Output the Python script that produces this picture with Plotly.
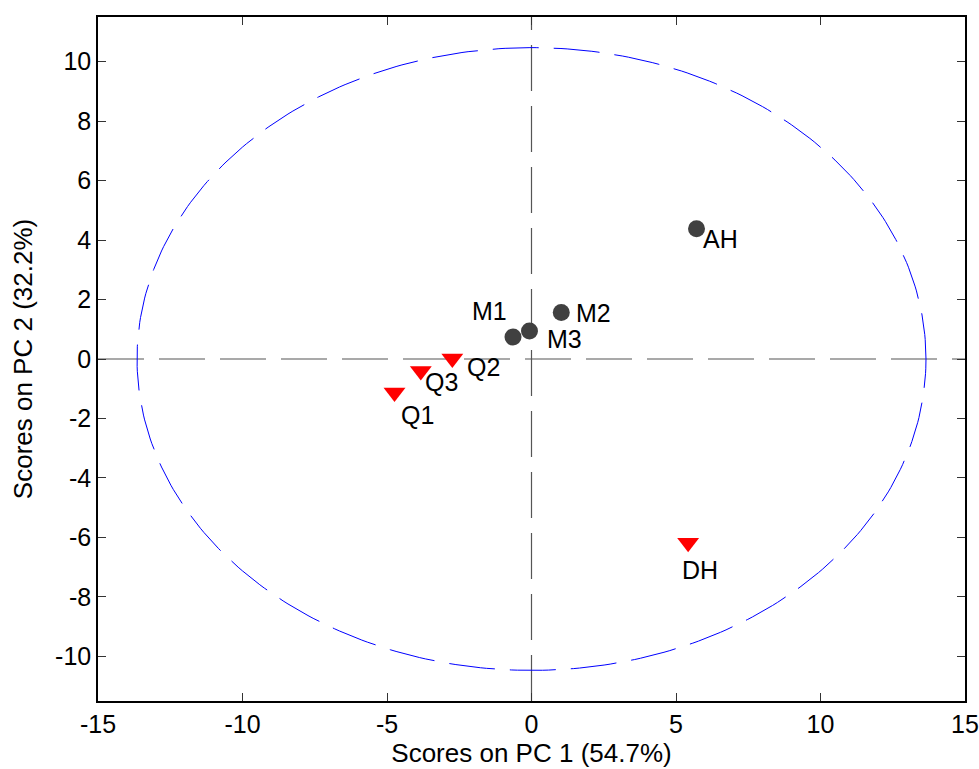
import numpy as np
import plotly.graph_objects as go

# Data
circle_labels = ["AH", "M1", "M2", "M3"]
circle_pc1 = [5.71, -0.64, 1.03, -0.07]
circle_pc2 = [4.38, 0.74, 1.56, 0.94]

tri_labels = ["DH", "Q1", "Q2", "Q3"]
tri_pc1 = [5.42, -4.74, -2.74, -3.83]
tri_pc2 = [-6.18, -1.13, 0.02, -0.40]

ellipse_radii = [13.65, 10.47]
x_ticks = [-15, -10, -5, 0, 5, 10, 15]
y_ticks = [-10, -8, -6, -4, -2, 0, 2, 4, 6, 8, 10]
x_range = [-15, 15]
y_range = [-11.5, 11.5]

# label pixel offsets (dx right, dy down)
label_offsets = {
    "AH": (24, 10), "M1": (-24, -26), "M2": (32, 0), "M3": (35, 8),
    "DH": (12, 27), "Q1": (23, 22), "Q2": (31, 9), "Q3": (21, 11),
}

FONT = "Liberation Sans, Arial, sans-serif"
FS = 26

fig = go.Figure()

# zero lines (dashed)
fig.add_trace(go.Scatter(x=[x_range[0], x_range[1]], y=[0, 0], mode="lines",
                         line=dict(color="#555555", width=1.2, dash="46px,15px"),
                         hoverinfo="skip", showlegend=False))
fig.add_trace(go.Scatter(x=[0, 0], y=[y_range[0], y_range[1]], mode="lines",
                         line=dict(color="#555555", width=1.2, dash="46px,15px"),
                         hoverinfo="skip", showlegend=False))

# confidence ellipse
t = np.linspace(0, 2 * np.pi, 400)
fig.add_trace(go.Scatter(x=ellipse_radii[0] * np.cos(t), y=ellipse_radii[1] * np.sin(t),
                         mode="lines", line=dict(color="#0000ff", width=1, dash="46px,15px"),
                         hoverinfo="skip", showlegend=False))

fig.add_trace(go.Scatter(x=circle_pc1, y=circle_pc2, mode="markers",
                         marker=dict(symbol="circle", size=17, color="#404040"),
                         showlegend=False))
fig.add_trace(go.Scatter(x=tri_pc1, y=tri_pc2, mode="markers",
                         marker=dict(symbol="triangle-down", size=19, color="#ff0000"),
                         showlegend=False))

for labs, xs, ys in [(circle_labels, circle_pc1, circle_pc2), (tri_labels, tri_pc1, tri_pc2)]:
    for lab, x, y in zip(labs, xs, ys):
        dx, dy = label_offsets[lab]
        fig.add_annotation(x=x, y=y, text=lab, showarrow=False, xshift=dx, yshift=-dy,
                           font=dict(family=FONT, size=FS - 1, color="black"))

axis_common = dict(showline=True, linecolor="black", linewidth=1.5, mirror="ticks",
                   ticks="inside", ticklen=8, tickwidth=1, tickcolor="#333333",
                   showgrid=False, zeroline=False, automargin=False,
                   tickfont=dict(family=FONT, size=FS - 1, color="black"))

fig.update_xaxes(range=x_range, tickvals=x_ticks, ticktext=[str(v) for v in x_ticks],
                 title=dict(text="Scores on PC 1 (54.7%)", font=dict(family=FONT, size=FS, color="black"),
                            standoff=4),
                 **axis_common)
fig.update_yaxes(range=y_range, tickvals=y_ticks, ticktext=[str(v) for v in y_ticks],
                 title=dict(text="Scores on PC 2 (32.2%)", font=dict(family=FONT, size=FS, color="black"),
                            standoff=15),
                 **axis_common)

fig.update_layout(width=979, height=769, margin=dict(l=98, r=14, t=17, b=68, autoexpand=False),
                  plot_bgcolor="white", paper_bgcolor="white")

fig.write_html("out.html")
